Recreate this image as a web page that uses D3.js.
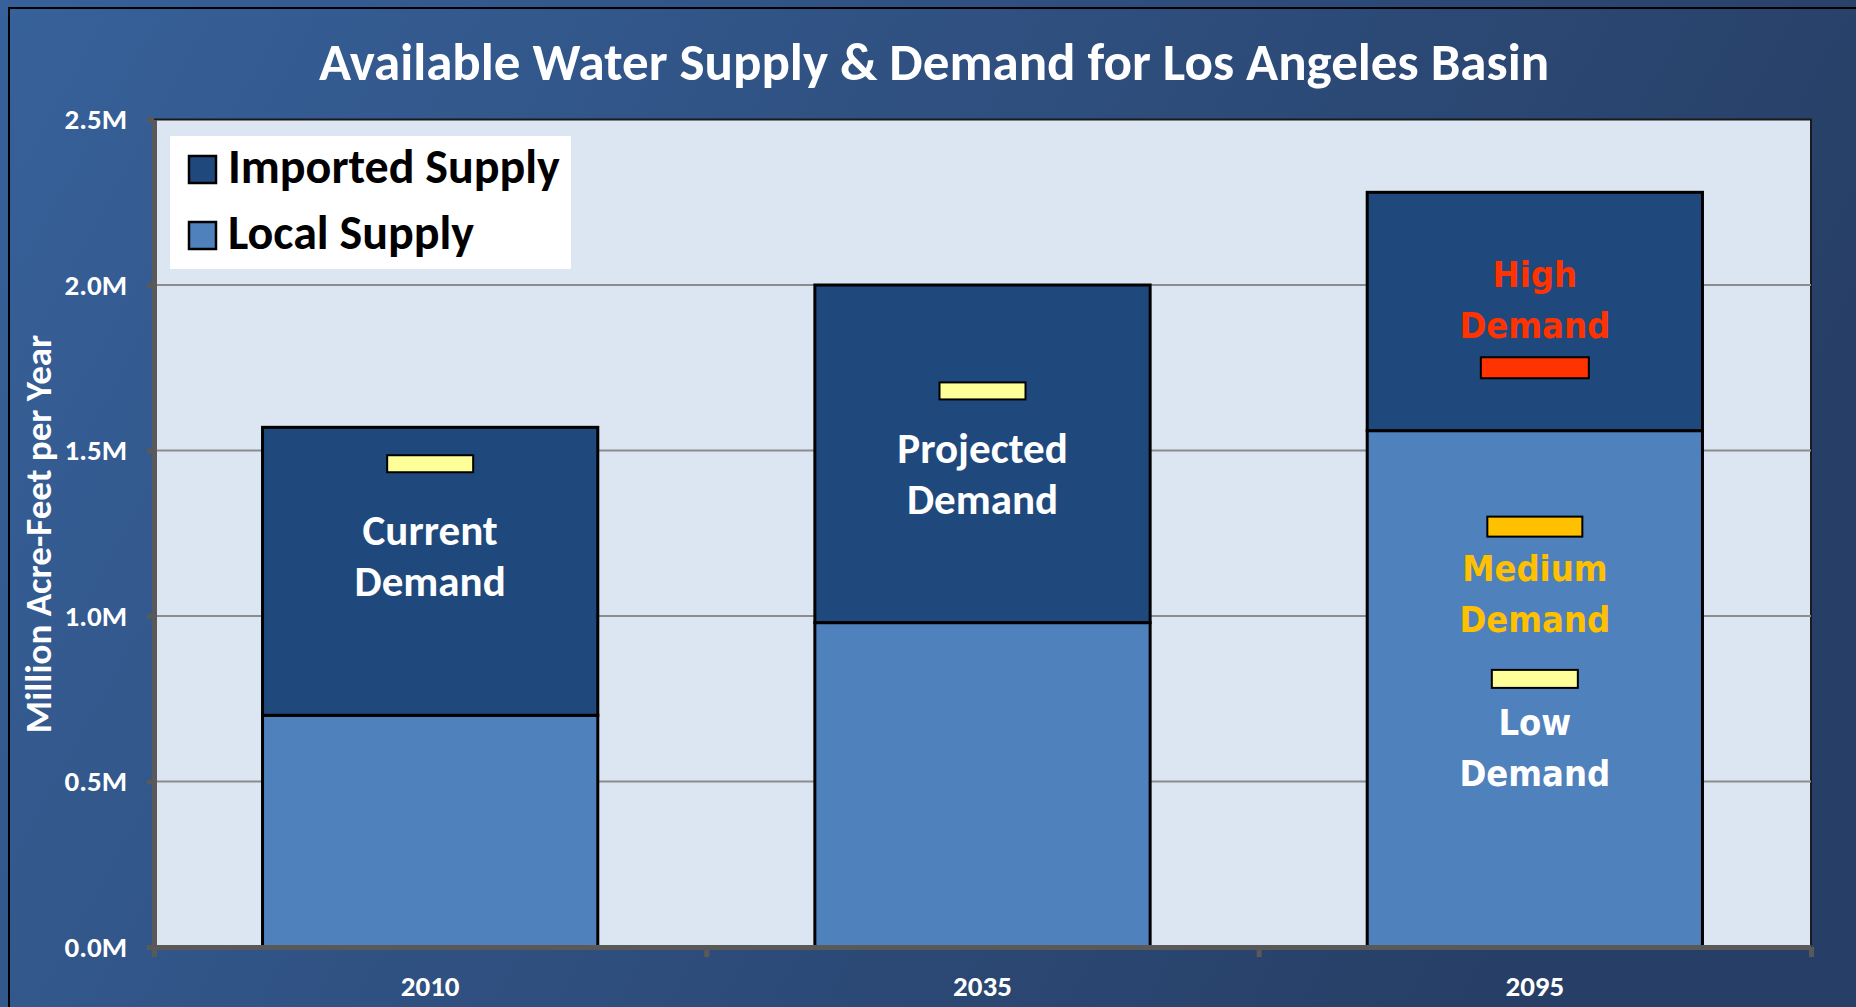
<!DOCTYPE html>
<html>
<head>
<meta charset="utf-8">
<script src="https://cdn.jsdelivr.net/npm/d3@7"></script>
<style>
  html, body { margin: 0; padding: 0; overflow: hidden; }
  svg { display: block; }
  .calibri { font-family: Carlito, Lato, "Open Sans", sans-serif; font-weight: bold; }
  .verdana { font-family: "DejaVu Sans Condensed", "DejaVu Sans", sans-serif; font-stretch: condensed; font-weight: bold; }
</style>
</head>
<body>
<svg></svg>
<script>
(function (d3) {
  'use strict';

  // ---- data (million acre-feet per year) ----
  const years = ['2010', '2035', '2095'];
  const localSupply = [0.70, 0.98, 1.56];
  const importedSupply = [0.87, 1.02, 0.72];
  const seriesNames = ['Imported Supply', 'Local Supply'];
  const yTicks = [0, 0.5, 1.0, 1.5, 2.0, 2.5];

  const demandYears = ['2010', '2035', '2095', '2095', '2095'];
  const demandLevels = ['current', 'projected', 'high', 'medium', 'low'];
  const demandValues = [1.46, 1.68, 1.75, 1.27, 0.81];

  const labelYears = ['2010', '2035', '2095', '2095', '2095'];
  const labelLevels = ['current', 'projected', 'high', 'medium', 'low'];
  const labelLines = [
    ['Current', 'Demand'],
    ['Projected', 'Demand'],
    ['High', 'Demand'],
    ['Medium', 'Demand'],
    ['Low', 'Demand']
  ];
  const labelValues = [1.215, 1.462, 1.994, 1.106, 0.64];

  // ---- styles ----
  const colors = { 'Imported Supply': '#1f497d', 'Local Supply': '#4f81bd' };
  const levelStyle = {
    current:   { fill: '#ffff99', w: 86,  h: 17, text: '#ffffff', font: 'calibri', size: 43 },
    projected: { fill: '#ffff99', w: 86,  h: 17, text: '#ffffff', font: 'calibri', size: 43 },
    high:      { fill: '#ff3300', w: 108, h: 21, text: '#ff3300', font: 'verdana', size: 36 },
    medium:    { fill: '#ffc000', w: 95,  h: 20, text: '#ffc000', font: 'verdana', size: 36 },
    low:       { fill: '#ffff99', w: 86,  h: 18, text: '#ffffff', font: 'verdana', size: 36 }
  };

  const width = 1856;
  const height = 1007;
  const margin = { top: 119.5, right: 45, bottom: 60, left: 154 };
  const innerWidth = width - margin.left - margin.right;
  const innerHeight = height - margin.top - margin.bottom;

  const svg = d3.select('svg')
      .attr('width', width)
      .attr('height', height);

  const defs = svg.append('defs');
  const grad = defs.append('linearGradient')
      .attr('id', 'bg')
      .attr('x1', '0').attr('y1', '0')
      .attr('x2', '1').attr('y2', '0.3');
  grad.append('stop').attr('offset', '0%').attr('stop-color', '#37619a');
  grad.append('stop').attr('offset', '100%').attr('stop-color', '#273f66');

  svg.append('rect')
      .attr('width', width)
      .attr('height', height)
      .attr('fill', 'url(#bg)');

  svg.append('rect')
      .attr('x', 9).attr('y', 8)
      .attr('width', width + 20).attr('height', height + 20)
      .attr('fill', 'none')
      .attr('stroke', '#000')
      .attr('stroke-width', 2);

  // title
  svg.append('text')
      .attr('class', 'calibri')
      .attr('x', 934)
      .attr('y', 80)
      .attr('text-anchor', 'middle')
      .attr('fill', '#fff')
      .attr('font-size', 53)
      .text('Available Water Supply & Demand for Los Angeles Basin');

  const g = svg.append('g')
      .attr('transform', `translate(${margin.left},${margin.top})`);

  const x = d3.scaleBand()
      .domain(years)
      .range([0, innerWidth])
      .paddingInner(0.393)
      .paddingOuter(0.1965);

  const y = d3.scaleLinear()
      .domain([0, 2.5])
      .range([innerHeight, 0]);

  // plot background
  g.append('rect')
      .attr('width', innerWidth)
      .attr('height', innerHeight)
      .attr('fill', '#dce6f2')
      .attr('stroke', '#1a1a1a')
      .attr('stroke-width', 2);

  // gridlines
  g.append('g')
    .selectAll('line')
    .data(yTicks.filter(d => d > 0 && d < 2.5))
    .enter().append('line')
      .attr('x1', 0)
      .attr('x2', innerWidth)
      .attr('y1', d => y(d))
      .attr('y2', d => y(d))
      .attr('stroke', '#8c8c8c')
      .attr('stroke-width', 2);

  // stacked bars
  const table = years.map((yr, i) => ({
    year: yr,
    'Local Supply': localSupply[i],
    'Imported Supply': importedSupply[i]
  }));
  const stack = d3.stack().keys(['Local Supply', 'Imported Supply']);
  const series = stack(table);

  g.append('g')
    .selectAll('g')
    .data(series)
    .enter().append('g')
      .attr('fill', d => colors[d.key])
    .selectAll('rect')
    .data(d => d)
    .enter().append('rect')
      .attr('x', d => x(d.data.year))
      .attr('y', d => y(d[1]))
      .attr('width', x.bandwidth())
      .attr('height', d => y(d[0]) - y(d[1]))
      .attr('stroke', '#000')
      .attr('stroke-width', 3);

  // demand markers
  const markers = demandValues.map((v, i) => ({ year: demandYears[i], level: demandLevels[i], value: v }));
  g.append('g')
    .selectAll('rect')
    .data(markers)
    .enter().append('rect')
      .attr('x', d => x(d.year) + x.bandwidth() / 2 - levelStyle[d.level].w / 2)
      .attr('y', d => y(d.value) - levelStyle[d.level].h / 2)
      .attr('width', d => levelStyle[d.level].w)
      .attr('height', d => levelStyle[d.level].h)
      .attr('fill', d => levelStyle[d.level].fill)
      .attr('stroke', '#000')
      .attr('stroke-width', 2);

  // demand labels
  const labels = labelValues.map((v, i) => ({ year: labelYears[i], level: labelLevels[i], lines: labelLines[i], value: v }));
  const lab = g.append('g')
    .selectAll('text')
    .data(labels)
    .enter().append('text')
      .attr('class', d => levelStyle[d.level].font)
      .attr('text-anchor', 'middle')
      .attr('font-size', d => levelStyle[d.level].size)
      .attr('fill', d => levelStyle[d.level].text)
      .attr('transform', d => `translate(${x(d.year) + x.bandwidth() / 2},${y(d.value)})`);
  lab.selectAll('tspan')
    .data(d => d.lines)
    .enter().append('tspan')
      .attr('x', 0)
      .attr('y', (d, i) => i * 51)
      .text(d => d);

  // y axis
  const yAxis = g.append('g')
      .call(d3.axisLeft(y)
        .tickValues(yTicks)
        .tickFormat(d => d.toFixed(1) + 'M')
        .tickSize(7)
        .tickSizeOuter(0)
        .tickPadding(20));
  yAxis.select('.domain').attr('stroke', '#595959').attr('stroke-width', 5);
  yAxis.selectAll('.tick line').attr('stroke', '#595959').attr('stroke-width', 5);
  yAxis.selectAll('.tick text')
      .attr('class', 'calibri')
      .attr('fill', '#fff')
      .attr('font-size', 29);

  // x axis line with boundary ticks
  const xEdges = d3.scaleLinear().domain([0, years.length]).range([0, innerWidth]);
  const xLine = g.append('g')
      .attr('transform', `translate(0,${innerHeight})`)
      .call(d3.axisBottom(xEdges)
        .tickValues(d3.range(years.length + 1))
        .tickFormat('')
        .tickSize(10)
        .tickSizeOuter(0));
  xLine.select('.domain').attr('stroke', '#595959').attr('stroke-width', 5);
  xLine.selectAll('.tick line').attr('stroke', '#595959').attr('stroke-width', 5);

  // x labels
  const xAxis = g.append('g')
      .attr('transform', `translate(0,${innerHeight})`)
      .call(d3.axisBottom(x).tickSize(0).tickPadding(28));
  xAxis.select('.domain').remove();
  xAxis.selectAll('.tick text')
      .attr('class', 'calibri')
      .attr('fill', '#fff')
      .attr('font-size', 29);

  // y axis title
  svg.append('text')
      .attr('class', 'calibri')
      .attr('transform', 'translate(51,534) rotate(-90)')
      .attr('text-anchor', 'middle')
      .attr('fill', '#fff')
      .attr('font-size', 37)
      .text('Million Acre-Feet per Year');

  // legend
  const legend = g.append('g')
      .attr('transform', `translate(${170 - margin.left},${136 - margin.top})`);
  legend.append('rect')
      .attr('width', 401)
      .attr('height', 133)
      .attr('fill', '#fff');
  const item = legend.selectAll('g')
    .data(seriesNames)
    .enter().append('g')
      .attr('transform', (d, i) => `translate(0,${i * 66})`);
  item.append('rect')
      .attr('x', 19).attr('y', 20)
      .attr('width', 27).attr('height', 27)
      .attr('fill', d => colors[d])
      .attr('stroke', '#000')
      .attr('stroke-width', 2.5);
  item.append('text')
      .attr('class', 'calibri')
      .attr('x', 58)
      .attr('y', 47)
      .attr('font-size', 48)
      .attr('fill', '#000')
      .text(d => d);

}(d3));
</script>
</body>
</html>
